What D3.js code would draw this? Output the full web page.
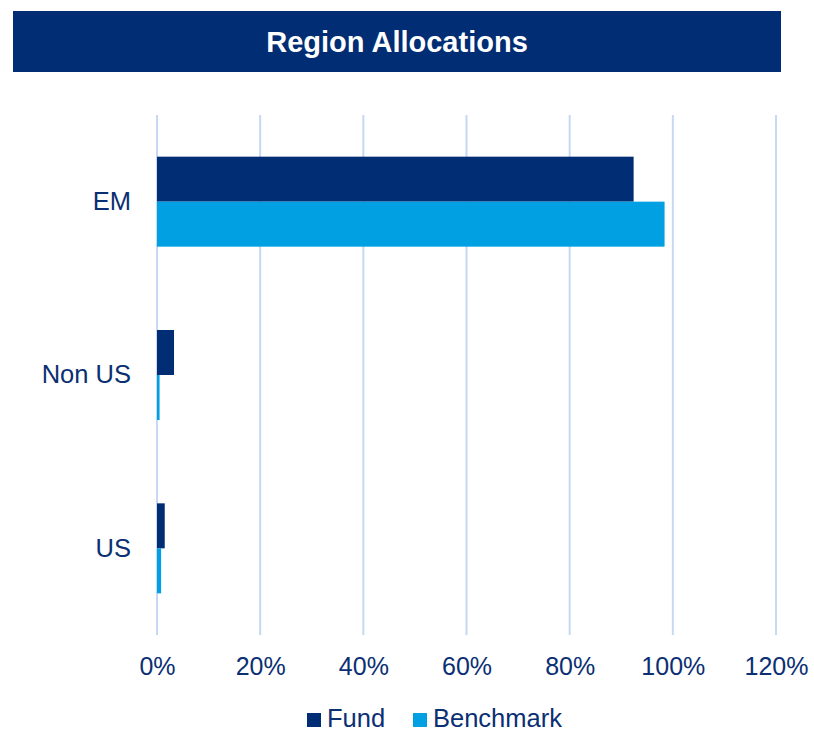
<!DOCTYPE html>
<html><head><meta charset="utf-8">
<script src="https://cdn.jsdelivr.net/npm/d3@7"></script>
<style>body{margin:0;background:#fff;}svg{display:block;font-family:"Liberation Sans",Arial,sans-serif;}</style>
</head><body>
<svg id="chart" width="814" height="732"></svg>
<script>
const categories = ["EM", "Non US", "US"];
const fundValues = [92.4, 3.3, 1.5];
const benchmarkValues = [98.4, 0.5, 0.8];
const seriesNames = ["Fund", "Benchmark"];
const tickValues = [0, 20, 40, 60, 80, 100, 120];
const colors = ["#002D73", "#00A0E2"];
const textColor = "#0B2F73";

const svg = d3.select("#chart");
// Title bar
svg.append("rect").attr("x", 13).attr("y", 11).attr("width", 768).attr("height", 61).attr("fill", "#002D73");
svg.append("text").attr("x", 397).attr("y", 52).attr("text-anchor", "middle")
  .attr("fill", "#fff").attr("font-weight", "bold").attr("font-size", 29).text("Region Allocations");

const x = d3.scaleLinear().domain([0, 120]).range([157, 776]);
const y = d3.scaleBand().domain(categories).range([115, 635]);
const inner = d3.scaleBand().domain(seriesNames).range([0, 90]);
const yOff = (y.bandwidth() - 90) / 2;

// gridlines
svg.append("g").selectAll("line").data(tickValues).join("line")
  .attr("x1", d => x(d)).attr("x2", d => x(d)).attr("y1", 115).attr("y2", 635)
  .attr("stroke", "#C6D8F4").attr("stroke-width", 2);

// bars
const series = [fundValues, benchmarkValues];
series.forEach((vals, si) => {
  svg.append("g").selectAll("rect").data(categories).join("rect")
    .attr("x", x(0))
    .attr("y", c => y(c) + yOff + inner(seriesNames[si]))
    .attr("width", (c, i) => x(vals[i]) - x(0))
    .attr("height", inner.bandwidth())
    .attr("fill", colors[si]);
});

// x axis labels
const xAxis = d3.axisBottom(x).tickValues(tickValues).tickFormat(d => d + "%").tickSize(0).tickPadding(0);
const gx = svg.append("g").attr("transform", "translate(0,657)").call(xAxis);
gx.select(".domain").remove();
gx.selectAll("text").attr("font-size", 25).attr("fill", textColor).attr("font-family", "Liberation Sans, Arial, sans-serif");

// y axis labels
const yAxis = d3.axisLeft(y).tickSize(0).tickPadding(26);
const gy = svg.append("g").attr("transform", "translate(157,0)").call(yAxis);
gy.select(".domain").remove();
gy.selectAll("text").attr("font-size", 25.5).attr("fill", textColor).attr("font-family", "Liberation Sans, Arial, sans-serif");

// legend
const legendX = [307, 413];
seriesNames.forEach((n, i) => {
  svg.append("rect").attr("x", legendX[i]).attr("y", 713).attr("width", 14).attr("height", 14).attr("fill", colors[i]);
  svg.append("text").attr("x", legendX[i] + 20).attr("y", 727).attr("font-size", 25.5).attr("fill", textColor).text(n);
});
</script>
</body></html>
